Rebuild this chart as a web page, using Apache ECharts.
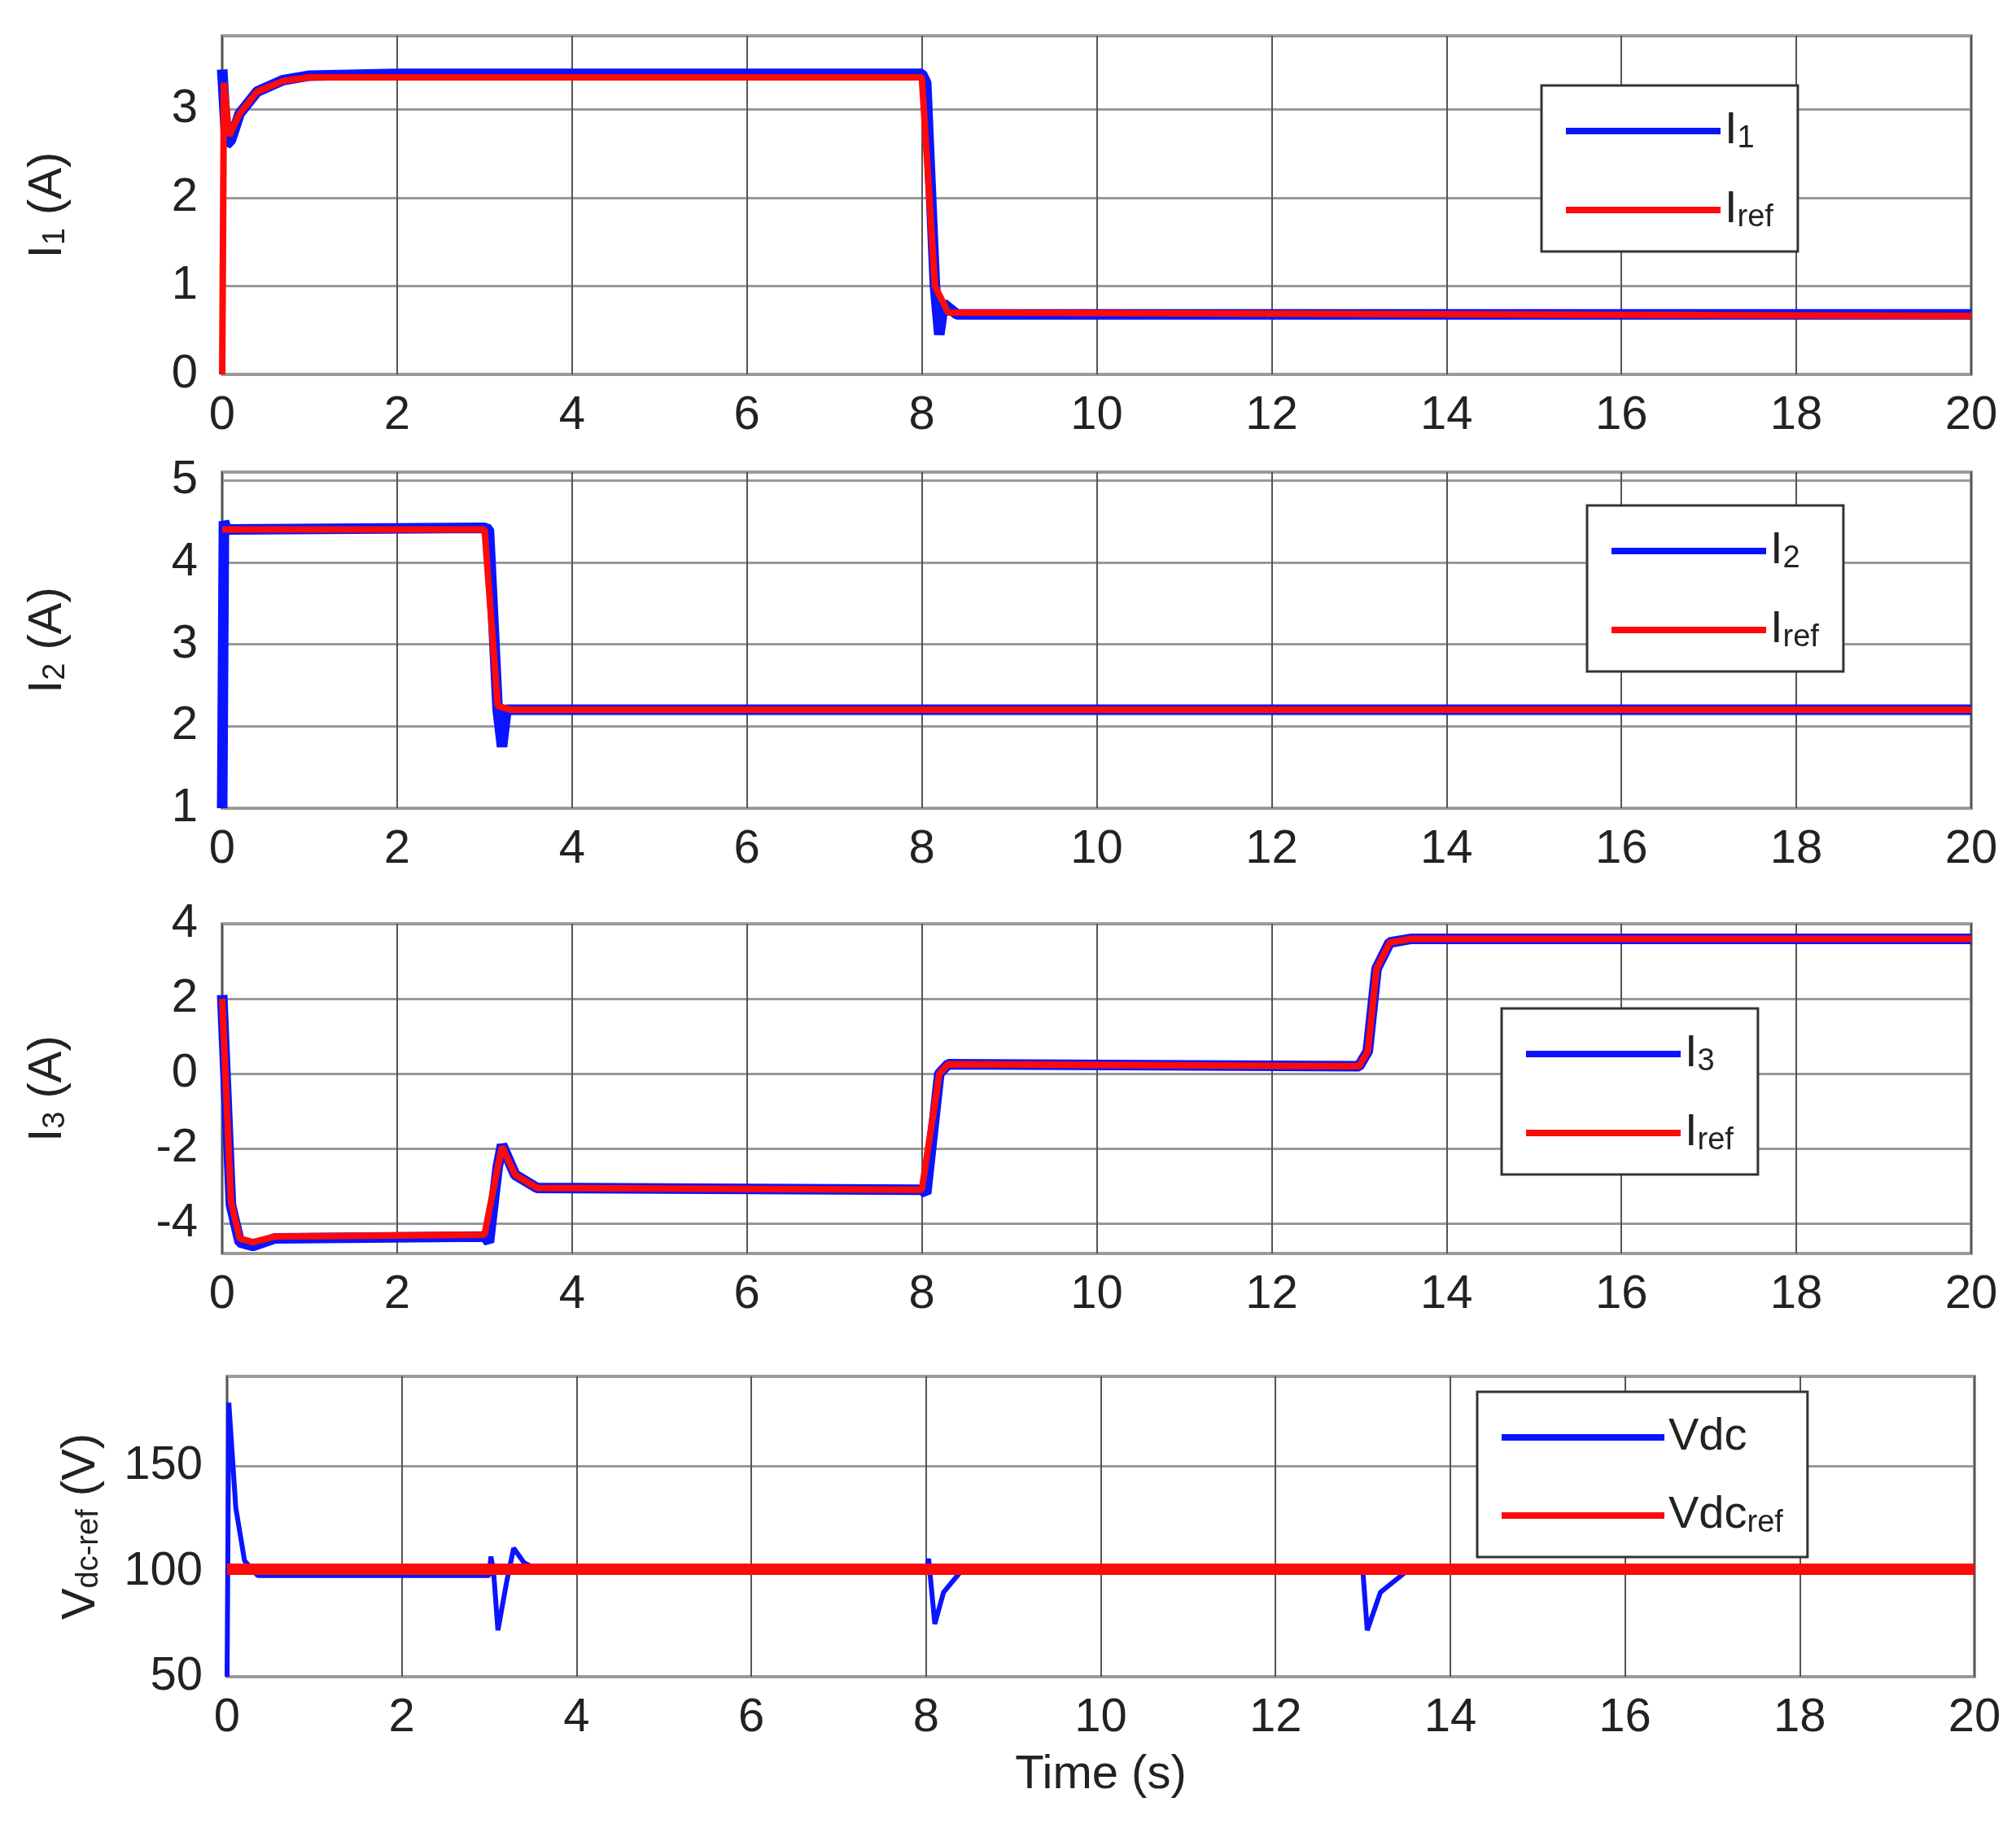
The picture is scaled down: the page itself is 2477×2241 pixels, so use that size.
<!DOCTYPE html>
<html><head><meta charset="utf-8">
<script src="https://cdn.jsdelivr.net/npm/echarts@6/dist/echarts.min.js"></script>
<style>html,body{margin:0;padding:0;background:#fff}#c{width:2477px;height:2241px}</style>
</head><body><div id="c"></div>
<script>
const xTicks = [0,2,4,6,8,10,12,14,16,18,20];
const i1 = [[0,3.45],[0.05,2.6],[0.1,2.65],[0.2,2.95],[0.4,3.2],[0.7,3.33],[1,3.38],[2,3.4],[8,3.4],[8.05,3.3],[8.15,1.0],[8.2,0.45],[8.25,0.8],[8.4,0.68],[20,0.68]];
const i1ref = [[0,0],[0.02,3.3],[0.08,2.7],[0.2,2.95],[0.4,3.2],[0.7,3.32],[1,3.36],[8,3.36],[8.15,1.0],[8.3,0.7],[20,0.66]];
const i2 = [[0,1],[0.02,4.5],[0.05,4.4],[3,4.42],[3.05,4.4],[3.15,2.2],[3.2,1.75],[3.25,2.2],[20,2.2]];
const i2ref = [[0,4.4],[3,4.4],[3.15,2.25],[3.3,2.2],[20,2.2]];
const i3 = [[0,2.1],[0.1,-3.5],[0.2,-4.5],[0.35,-4.6],[0.6,-4.4],[3,-4.35],[3.05,-4.5],[3.15,-2.5],[3.2,-1.9],[3.35,-2.7],[3.6,-3.05],[8,-3.1],[8.05,-3.2],[8.2,0.0],[8.3,0.25],[13,0.2],[13.1,0.6],[13.2,2.8],[13.35,3.5],[13.6,3.6],[20,3.6]];
const i3ref = [[0,2.0],[0.1,-3.4],[0.2,-4.4],[0.35,-4.5],[0.6,-4.35],[3,-4.3],[3.15,-2.5],[3.2,-1.95],[3.35,-2.7],[3.6,-3.05],[8,-3.1],[8.2,0.0],[8.3,0.25],[13,0.2],[13.1,0.6],[13.2,2.8],[13.35,3.5],[13.6,3.6],[20,3.6]];
const vdc = [[0,50],[0.02,180],[0.1,130],[0.2,105],[0.35,98],[0.6,98],[3,98],[3.02,107],[3.05,100],[3.1,72],[3.2,95],[3.28,111],[3.4,104],[3.6,100],[8,100],[8.03,106],[8.1,75],[8.2,90],[8.4,100],[13,100],[13.05,72],[13.2,90],[13.5,100],[20,100]];
const vdcref = [[0,101],[20,101]];

const F = 'Liberation Sans, Arial, sans-serif';
const grids = [
  {left:273,right:55,top:44,height:416},
  {left:273,right:55,top:580,height:413},
  {left:273,right:55,top:1135,height:405},
  {left:279,right:51,top:1691,height:369}
];
const yDefs = [
  {min:0,max:3.83,interval:1,name:'I{s|1} (A)'},
  {min:1,max:5.1,interval:1,name:'I{s|2} (A)'},
  {min:-4.8,max:4,splitNumber:4,name:'I{s|3} (A)'},
  {min:50,max:192.5,interval:50,name:'V{s|dc-ref} (V)'}
];
const rich = {s:{fontSize:38,fontFamily:F,color:'#222',padding:[20,0,0,0]}};
const xAxis = grids.map((g,i)=>({type:'value',gridIndex:i,min:0,max:20,interval:2,
  axisLine:{show:false},axisTick:{show:false},
  axisLabel:{fontSize:58,fontFamily:F,color:'#222',margin:22},
  splitLine:{show:true,lineStyle:{color:'#555',width:2}},
  name:i===3?'Time (s)':'',nameLocation:'middle',nameGap:92,
  nameTextStyle:{fontSize:58,fontFamily:F,color:'#222'}}));
const yAxis = yDefs.map((d,i)=>{const a={type:'value',gridIndex:i,min:d.min,max:d.max,
  axisLine:{show:false},axisTick:{show:false},
  axisLabel:{fontSize:58,fontFamily:F,color:'#222',margin:30,showMinLabel:i!==2,
    formatter:v=>(Math.abs(v-Math.round(v))<1e-6)?String(Math.round(v)):''},
  splitLine:{show:true,lineStyle:{color:'#999',width:3}},
  name:d.name,nameLocation:'middle',nameGap:i===3?150:185,nameRotate:90,
  nameTextStyle:{fontSize:58,fontFamily:F,color:'#222',rich:rich}};
  if(d.interval) a.interval=d.interval; else a.splitNumber=d.splitNumber; return a;});

const pairs = [[i1,i1ref,'I1','Iref'],[i2,i2ref,'I2','Iref'],[i3,i3ref,'I3','Iref'],[vdc,vdcref,'Vdc','Vdcref']];
const series=[];
pairs.forEach((p,i)=>{
  series.push({type:'line',name:'b'+i,xAxisIndex:i,yAxisIndex:i,data:p[0],showSymbol:false,
    lineStyle:{color:'#0a14ff',width:i===3?6:13},itemStyle:{color:'#0a14ff'},z:2});
  series.push({type:'line',name:'r'+i,xAxisIndex:i,yAxisIndex:i,data:p[1],showSymbol:false,
    lineStyle:{color:'#ff0a0a',width:i===3?14:8},itemStyle:{color:'#ff0a0a'},z:3});
});
const legPos=[[1894,105,210],[1950,621,211],[1845,1239,211],[1815,1710,203]];
const labels=[['I{s|1}','I{s|ref}'],['I{s|2}','I{s|ref}'],['I{s|3}','I{s|ref}'],['Vdc','Vdc{s|ref}']];
const legend=legPos.map((lp,i)=>({data:['b'+i,'r'+i],orient:'vertical',left:lp[0],top:lp[1],
  backgroundColor:'#fff',borderColor:'#333',borderWidth:3,padding:[28,30,22,30],itemGap:40,
  itemWidth:i===3?200:190,itemHeight:8,icon:'rect',
  formatter:n=>labels[i][n[0]==='b'?0:1],
  textStyle:{fontSize:56,fontFamily:F,color:'#222',rich:rich}}));

const chart=echarts.init(document.getElementById('c'));
chart.setOption({animation:false,backgroundColor:'#fff',
  grid:grids.map(g=>Object.assign({show:true,borderColor:'#444',borderWidth:3,backgroundColor:'#fff'},g)),
  xAxis,yAxis,series,legend});
</script></body></html>
